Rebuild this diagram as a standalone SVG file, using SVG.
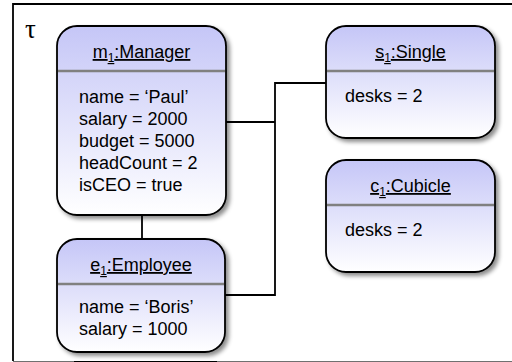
<svg xmlns="http://www.w3.org/2000/svg" width="512" height="362" viewBox="0 0 512 362">
<defs>
<linearGradient id="g" x1="0" y1="0" x2="0" y2="1">
<stop offset="0" stop-color="#c5c6f7"/>
<stop offset="1" stop-color="#ffffff"/>
</linearGradient>
<filter id="sh" x="-10%" y="-10%" width="130%" height="130%">
<feDropShadow dx="3" dy="3" stdDeviation="2" flood-color="#000" flood-opacity="0.45"/>
</filter>
</defs>
<style>
.box{fill:url(#g);stroke:#000;stroke-width:1.8;filter:url(#sh)}
.div{stroke:#808080;stroke-width:2.5}
.t{font-family:"Liberation Sans",Arial,sans-serif;font-size:18px;fill:#000}
.ti{text-anchor:middle;text-decoration:underline}
.sub{font-size:12px}
.con{fill:none;stroke:#000;stroke-width:1.8}
.tau{font-family:"Liberation Serif","DejaVu Serif",serif;font-size:27px;fill:#000}
</style>
<rect width="512" height="362" fill="#fff"/>
<path d="M13,361 V4 H513" fill="none" stroke="#000" stroke-width="1.8"/>
<line x1="13" y1="361.5" x2="512" y2="361.5" stroke="#707070" stroke-width="1.2"/>
<line x1="74" y1="361.5" x2="217" y2="361.5" stroke="#000" stroke-width="1.2"/>
<text class="tau" x="25" y="38">τ</text>
<g id="connectors">
<line class="con" x1="142" y1="215" x2="142" y2="239" stroke-width="2.5"/>
<path class="con" d="M226,122 H275"/>
<path class="con" d="M225,295 H275 V83 H326"/>
</g>
<g id="m1">
<rect class="box" x="57" y="26" width="169" height="189" rx="20"/>
<line class="div" x1="58" y1="71" x2="225" y2="71"/>
<text class="t ti" x="141.5" y="58">m<tspan class="sub" dy="4">1</tspan><tspan dy="-4">:Manager</tspan></text>
<text class="t" x="79" y="103">name = ‘Paul’</text>
<text class="t" x="79" y="125">salary = 2000</text>
<text class="t" x="79" y="147">budget = 5000</text>
<text class="t" x="79" y="169">headCount = 2</text>
<text class="t" x="79" y="191">isCEO = true</text>
</g>
<g id="e1">
<rect class="box" x="57" y="239" width="168" height="113" rx="20"/>
<line class="div" x1="58" y1="284" x2="224" y2="284"/>
<text class="t ti" x="141" y="271">e<tspan class="sub" dy="4">1</tspan><tspan dy="-4">:Employee</tspan></text>
<text class="t" x="79" y="313">name = ‘Boris’</text>
<text class="t" x="79" y="335">salary = 1000</text>
</g>
<g id="s1">
<rect class="box" x="326" y="26" width="169" height="112" rx="20"/>
<line class="div" x1="327" y1="71" x2="494" y2="71"/>
<text class="t ti" x="410.5" y="58">s<tspan class="sub" dy="4">1</tspan><tspan dy="-4">:Single</tspan></text>
<text class="t" x="345" y="102">desks = 2</text>
</g>
<g id="c1">
<rect class="box" x="326" y="160" width="169" height="112" rx="20"/>
<line class="div" x1="327" y1="205" x2="494" y2="205"/>
<text class="t ti" x="410.5" y="192">c<tspan class="sub" dy="4">1</tspan><tspan dy="-4">:Cubicle</tspan></text>
<text class="t" x="345" y="236">desks = 2</text>
</g>
</svg>
